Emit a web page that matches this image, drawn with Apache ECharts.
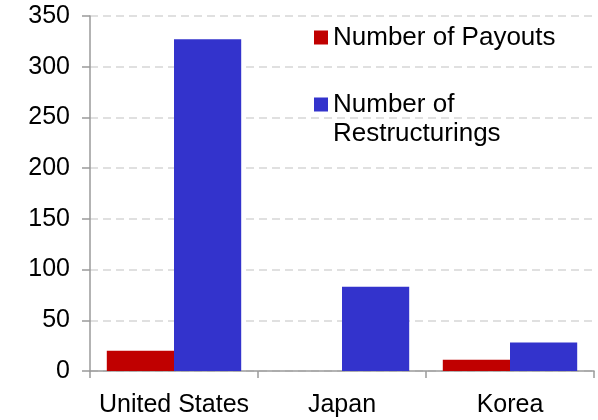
<!DOCTYPE html>
<html><head><meta charset="utf-8">
<script src="https://cdn.jsdelivr.net/npm/echarts@6/dist/echarts.min.js"></script>
<style>html,body{margin:0;padding:0;background:#fff}#c{width:598px;height:420px}</style>
</head><body><div id="c"></div>
<script>
const categories = ['United States', 'Japan', 'Korea'];
const payouts = [20, 0, 11];
const restructurings = [327, 83, 28];
const yTicks = [0, 50, 100, 150, 200, 250, 300, 350];

const FONT = '"Liberation Sans", Arial, sans-serif';
const chart = echarts.init(document.getElementById('c'), null, {renderer: 'canvas'});
chart.setOption({
  animation: false,
  backgroundColor: '#fff',
  grid: {left: 90, right: 4, top: 16, bottom: 49, containLabel: false},
  legend: {
    orient: 'vertical', left: 309, top: 18, itemGap: 9,
    itemWidth: 14, itemHeight: 14, icon: 'rect',
    data: ['Number of Payouts', 'Number of Restructurings'],
    formatter: function (n) { return n === 'Number of Restructurings' ? '\nNumber of\nRestructurings' : n; },
    textStyle: {fontFamily: FONT, fontSize: 26, color: '#000', lineHeight: 29}
  },
  xAxis: {
    type: 'category', data: categories,
    axisLine: {lineStyle: {color: '#9a9a9a', width: 1.5}},
    axisTick: {show: true, length: 7, lineStyle: {color: '#9a9a9a', width: 1.5}},
    axisLabel: {interval: 0, fontFamily: FONT, fontSize: 25, color: '#000', margin: 22}
  },
  yAxis: {
    type: 'value', min: yTicks[0], max: yTicks[yTicks.length - 1], interval: 50,
    axisLine: {show: true, lineStyle: {color: '#9a9a9a', width: 1.5}},
    axisTick: {show: true, inside: false, length: 8, lineStyle: {color: '#9a9a9a', width: 1.5}},
    axisLabel: {fontFamily: FONT, fontSize: 25, color: '#000', margin: 20},
    splitLine: {show: true, lineStyle: {color: '#d6d6d6', width: 1.5, type: [8, 5]}}
  },
  series: [
    {name: 'Number of Payouts', type: 'bar', data: payouts, barGap: '0%', barCategoryGap: '20%',
     itemStyle: {color: '#C00000'}},
    {name: 'Number of Restructurings', type: 'bar', data: restructurings, barGap: '0%', barCategoryGap: '20%',
     itemStyle: {color: '#3333CC'}}
  ]
});
</script></body></html>
